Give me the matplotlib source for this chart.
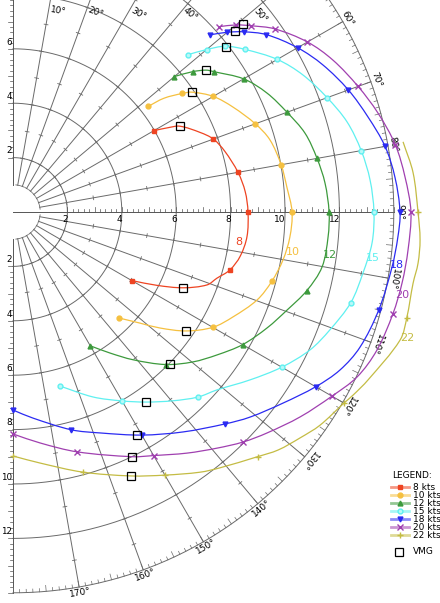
import numpy as np
import matplotlib.pyplot as plt
from matplotlib.path import Path
from matplotlib.patches import PathPatch

# polar data: true wind angle (deg) and boat speed (kts)
twa_8 = [60, 61.5, 62.8, 67, 70, 74, 80, 85, 90, 96, 101, 105, 108, 110.6, 114, 117, 120]
bsp_8 = [5.98, 6.5, 6.9, 7.48, 7.84, 8.10, 8.40, 8.57, 8.64, 8.65, 8.51, 8.25, 7.88, 7.62, 6.85, 5.94, 5.04]

twa_10 = [52, 53, 55, 56.2, 60, 64.5, 70, 74.3, 80, 84.8, 90, 95.2, 100.1, 105, 109.8, 115.5,
          120, 124.5, 128.3, 131.2, 135]
bsp_10 = [6.31, 6.95, 7.60, 7.92, 8.50, 8.96, 9.48, 9.81, 10.01, 10.11, 10.26, 10.22, 10.08, 9.85,
          9.54, 8.96, 8.48, 7.72, 6.88, 6.20, 5.51]

twa_12 = [50, 52, 53.7, 55, 60, 64.9, 70, 74.9, 80, 84.7, 90, 94.5, 100.1, 105, 109.7, 114.5,
          120, 125, 129.8, 135, 140.9, 145.5, 150]
bsp_12 = [7.75, 8.38, 8.81, 9.0, 9.79, 10.31, 10.72, 11.12, 11.35, 11.52, 11.62, 11.62, 11.54,
          11.18, 10.70, 10.27, 9.75, 9.16, 8.61, 7.93, 7.0, 6.29, 5.68]

twa_15 = [48, 50, 52, 55, 60, 64.7, 70, 74.9, 80, 84.9, 90, 94.9, 99.9, 105, 110.4, 114.9, 120,
          125.3, 131.1, 135, 139.7, 145, 150, 156.6, 165]
bsp_15 = [8.64, 9.29, 9.90, 10.42, 11.22, 11.79, 12.29, 12.72, 13.0, 13.18, 13.27, 13.25, 13.06,
          12.86, 12.43, 12.04, 11.41, 10.68, 9.95, 9.62, 9.10, 8.53, 8.02, 7.41, 6.62]

twa_18 = [48, 50, 52, 55, 60, 64.6, 70, 75, 80, 84.8, 90, 93.7, 98.3, 105, 111.3, 115.8, 120,
          125.3, 130.9, 135, 142.3, 150, 158.5, 165, 174.5, 180]
bsp_18 = [9.73, 10.28, 10.76, 11.37, 12.08, 12.61, 13.12, 13.51, 13.89, 14.10, 14.23, 14.18,
          14.08, 13.92, 13.69, 13.35, 12.85, 12.16, 11.52, 11.02, 10.22, 9.47, 8.73, 8.29, 7.61, 7.28]

twa_20 = [48, 50, 52, 55, 60, 64.6, 70, 74.8, 80, 84.9, 90, 95.5, 100.3, 105, 110.8, 115.6, 120,
          125.5, 131, 135, 139.2, 144.2, 150, 154, 165, 173.3, 180]
bsp_20 = [10.18, 10.70, 11.12, 11.74, 12.50, 13.02, 13.50, 13.90, 14.27, 14.47, 14.63, 14.59,
          14.54, 14.46, 14.31, 14.03, 13.54, 12.97, 12.38, 11.96, 11.47, 10.93, 10.34, 10.01, 9.13,
          8.55, 8.16]

twa_22 = [79.8, 84.4, 90, 93.9, 97.2, 100.1, 105, 108.3, 115.3, 118.3, 120, 124.8, 128.2, 131.9,
          135, 141, 144.3, 150, 155.9, 165, 173.9, 180]
bsp_22 = [14.57, 14.78, 14.89, 15.0, 15.01, 14.94, 14.99, 14.99, 14.44, 14.20, 14.05, 13.74,
          13.43, 13.10, 12.72, 12.10, 11.78, 11.17, 10.63, 9.90, 9.28, 8.97]

mark_angles = [48, 50, 52, 55, 60, 70, 80, 90, 105, 120, 135, 150, 165, 180]

# best VMG points
vmg_up_twa = [62.8, 56.2, 53.7, 52.2, 50.8, 50.7]
vmg_up_bsp = [6.90, 7.92, 8.81, 9.90, 10.53, 10.92]
vmg_dn_twa = [114.0, 124.5, 134.1, 145.0, 150.9, 154.0, 155.9]
vmg_dn_bsp = [6.85, 7.72, 8.03, 8.53, 9.38, 10.01, 10.63]

winds = [8, 10, 12, 15, 18, 20, 22]
twas = [twa_8, twa_10, twa_12, twa_15, twa_18, twa_20, twa_22]
bsps = [bsp_8, bsp_10, bsp_12, bsp_15, bsp_18, bsp_20, bsp_22]
colors = ['#ee4422', '#f5c040', '#3d9a3d', '#5ff0f0', '#2b2bf2', '#a040b0', '#c4bc44']
mfcs = ['#ee4422', '#f5c040', '#3d9a3d', '#b8f8f8', '#2b2bf2', '#a040b0', '#c4bc44']
markers = ['s', 'o', '^', 'o', 'v', 'x', '+']
# curve label positions (angle, radius)
lab_pos = [(97.6, 8.38), (98.1, 10.4), (97.7, 11.76), (97.3, 13.34), (97.9, 14.25),
           (102, 14.62), (107.7, 15.21)]


def pxy(a, r):
    a = np.radians(np.asarray(a, dtype=float))
    r = np.asarray(r, dtype=float)
    return r * np.sin(a), r * np.cos(a)


def smooth_path(x, y):
    # cubic bezier segments through the points (drawing only)
    p = np.column_stack([x, y])
    n = len(p)
    verts, codes = [p[0]], [Path.MOVETO]
    for i in range(n - 1):
        p0 = p[i - 1] if i > 0 else p[i]
        p1, p2 = p[i], p[i + 1]
        p3 = p[i + 2] if i + 2 < n else p[i + 1]
        seg = np.hypot(*(p2 - p1))
        d1 = p2 - p0
        d1 = d1 / np.hypot(*d1)
        d2 = p3 - p1
        d2 = d2 / np.hypot(*d2)
        verts += [p1 + d1 * seg / 3, p2 - d2 * seg / 3, p2]
        codes += [Path.CURVE4] * 3
    return Path(verts, codes)


S = 27.2  # pixels per knot
fig = plt.figure(figsize=(4.4, 6.03), dpi=100)
ax = fig.add_axes([0, 0, 1, 1])
ax.set_xlim(-13 / S, 427 / S)
ax.set_ylim(-391 / S, 212 / S)
ax.axis('off')

gc = '#6a6a6a'
glw = 0.7
R_OUT = 14

# rings
t = np.linspace(0, 180, 721)
for R in [2, 4, 6, 8, 10, 12, R_OUT]:
    x, y = pxy(t, np.full_like(t, R))
    ax.plot(x, y, color=gc, lw=glw, zorder=1)

# spokes with knot ticks
for a in range(0, 181, 10):
    r0 = 0 if a == 90 else 1
    x, y = pxy([a, a], [r0, R_OUT])
    ax.plot(x, y, color=gc if a not in (0, 90, 180) else '#555555', lw=glw, zorder=1)
    if a in (0, 90, 180):
        continue
    ar = np.radians(a)
    nx, ny = np.cos(ar), -np.sin(ar)
    for k in range(1, R_OUT):
        cx, cy = pxy(a, k)
        ax.plot([cx - 0.07 * nx, cx + 0.07 * nx], [cy - 0.07 * ny, cy + 0.07 * ny],
                color=gc, lw=0.6, zorder=1)

# ruler ticks on the axes
for v in np.arange(2, R_OUT + 0.01, 0.2):
    L = 0.2 if abs(v - round(v)) < 1e-6 else 0.11
    ax.plot([v, v], [0, L], color='#555555', lw=0.5, zorder=1)
    ax.plot([0, -L], [v, v], color='#555555', lw=0.5, zorder=1)
    ax.plot([0, -L], [-v, -v], color='#555555', lw=0.5, zorder=1)

# outer angle ticks
for a in range(0, 181):
    L = 0.22 if a % 5 == 0 else 0.12
    x, y = pxy([a, a], [R_OUT - L, R_OUT])
    ax.plot(x, y, color=gc, lw=0.5, zorder=1)

# axis numbers
for v in range(2, 13, 2):
    ax.text(v + 0.02, -0.1, str(v), fontsize=6.5, ha='right', va='top')
    ax.text(-0.04, -v + 0.08, str(v), fontsize=6.3, ha='right', va='bottom')
for v in [2, 4, 6]:
    ax.text(-0.04, v + 0.08, str(v), fontsize=6.3, ha='right', va='bottom')

# angle labels on outer ring
for a in range(60, 180, 10):
    x, y = pxy(a, R_OUT + 0.04)
    if a >= 140:
        ax.text(x, y, f'{a}°', fontsize=6.5, rotation=180 - a, rotation_mode='anchor',
                ha='center', va='top')
    else:
        ax.text(x, y, f'{a}°', fontsize=6.5, rotation=-a, rotation_mode='anchor',
                ha='center', va='bottom')

# angle labels at top edge
ytop = 212 / S - 0.35
for a in range(10, 60, 10):
    r = ytop / np.cos(np.radians(a))
    x, y = pxy(a, r)
    ax.text(x + 0.05, y, f'{a}°', fontsize=6.5, rotation=-a, rotation_mode='anchor',
            ha='left', va='center')

# polar curves
for w, tw, bs, c, fc, m, lp in zip(winds, twas, bsps, colors, mfcs, markers, lab_pos):
    x, y = pxy(tw, bs)
    ax.add_patch(PathPatch(smooth_path(x, y), fc='none', ec=c, lw=0.9, zorder=3))
    idx = [i for i, a in enumerate(tw) if a in mark_angles]
    ax.plot(x[idx], y[idx], ls='none', color=c, marker=m, ms=3.5 if m not in 'x+' else 4,
            mfc=fc, mec=c, mew=1.0, zorder=3)
    lx, ly = pxy(*lp)
    ax.text(lx, ly, str(w), color=c, fontsize=8, ha='center', va='center')

# VMG squares
x, y = pxy(vmg_up_twa + vmg_dn_twa, vmg_up_bsp + vmg_dn_bsp)
ax.plot(x, y, ls='none', marker='s', ms=5.5, mfc='none', mec='black', mew=0.9, zorder=4)

# legend
W, H = 440.0, 603.0
ax.text(392 / W, 1 - 476 / H, 'LEGEND:', transform=ax.transAxes, fontsize=6.5,
        ha='left', va='center')
for i, (w, c, fc, m) in enumerate(zip(winds, colors, mfcs, markers)):
    yy = 1 - (487 + 8.05 * i) / H
    ax.plot([391 / W, 409 / W], [yy, yy], transform=ax.transAxes, color=c, lw=2, alpha=0.55)
    ax.plot([400 / W], [yy], transform=ax.transAxes, color=c, marker=m,
            ms=3.5 if m not in 'x+' else 4, mfc=fc, mec=c, mew=1.0)
    ax.text(413 / W, yy, f'{w} kts', transform=ax.transAxes, fontsize=6.5,
            ha='left', va='center')
yy = 1 - 552 / H
ax.plot([399 / W], [yy], transform=ax.transAxes, ls='none', marker='s', ms=5.5,
        mfc='none', mec='black', mew=0.9)
ax.text(413 / W, yy, 'VMG', transform=ax.transAxes, fontsize=6.5, ha='left', va='center')

fig.savefig('out.png', dpi=100)
